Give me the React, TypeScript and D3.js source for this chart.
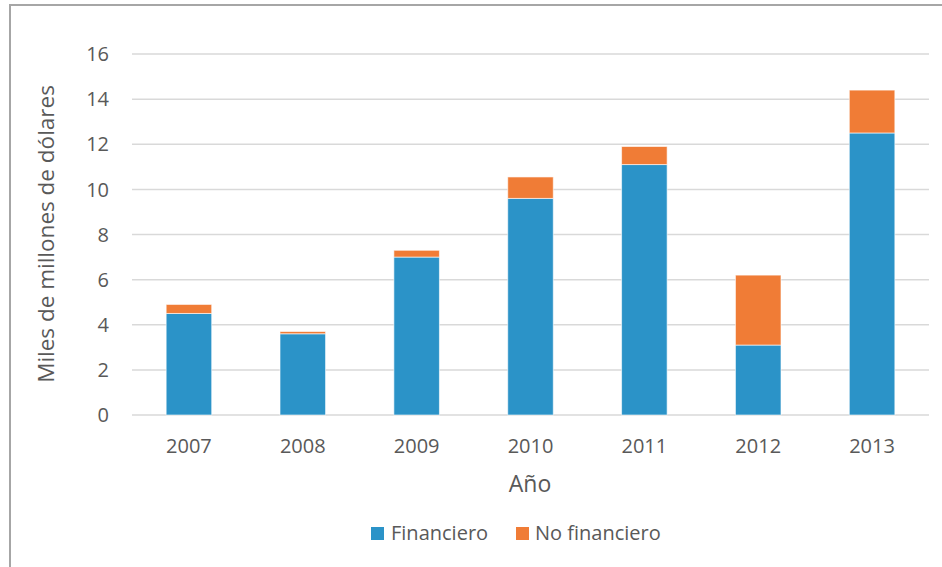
import React from "react";
import * as d3 from "d3";

const years = ["2007", "2008", "2009", "2010", "2011", "2012", "2013"];
const financiero = [4.5, 3.6, 7.0, 9.6, 11.1, 3.1, 12.5];
const noFinanciero = [0.4, 0.1, 0.3, 0.95, 0.8, 3.1, 1.9];
const yTicks = [0, 2, 4, 6, 8, 10, 12, 14, 16];
const seriesNames = ["Financiero", "No financiero"];
const colors = ["#2b93c8", "#f07c36"];

const W = 942;
const H = 567;
const left = 132;
const right = 929;
const top = 54;
const bottom = 415;
const font = "'Open Sans', sans-serif";
const textColor = "#595959";

export default function App() {
  const x = d3.scaleBand<string>().domain(years).range([left, right]).paddingInner(0.6).paddingOuter(0.3);
  const y = d3.scaleLinear().domain([0, 16]).range([bottom, top]);
  const rows = years.map((yr, i) => ({ year: yr, Financiero: financiero[i], "No financiero": noFinanciero[i] }));
  const stacked = d3.stack<any>().keys(seriesNames)(rows);

  return (
    <svg width={W} height={H} style={{ position: "absolute", left: 0, top: 0, background: "#fff" }}>
      <rect x={0} y={0} width={W} height={H} fill="#fff" />
      <path d={`M10,${H} L10,5 L${W},5`} fill="none" stroke="#a6a6a6" strokeWidth={2} />
      {yTicks.map((t) => (
        <g key={t}>
          <line x1={left} x2={right} y1={y(t)} y2={y(t)} stroke="#d9d9d9" strokeWidth={1.5} />
          <text x={109} y={y(t)} dy="0.36em" textAnchor="end" fontFamily={font} fontSize={20} fill={textColor}>
            {t}
          </text>
        </g>
      ))}
      {stacked.map((s, si) => (
        <g key={s.key}>
          {s.map((d, i) => (
            <rect
              key={i}
              x={x(years[i])!}
              y={y(d[1])}
              width={x.bandwidth()}
              height={y(d[0]) - y(d[1])}
              fill={colors[si]}
              stroke="#ffffff"
              strokeOpacity={0.6}
              strokeWidth={1}
            />
          ))}
        </g>
      ))}
      {years.map((yr) => (
        <text key={yr} x={x(yr)! + x.bandwidth() / 2} y={453} textAnchor="middle" fontFamily={font} fontSize={20} fill={textColor}>
          {yr}
        </text>
      ))}
      <text x={530} y={492} textAnchor="middle" fontFamily={font} fontSize={23} fill={textColor}>
        Año
      </text>
      <text
        transform={`translate(54,${234}) rotate(-90)`}
        textAnchor="middle"
        fontFamily={font}
        fontSize={22.5}
        fill={textColor}
      >
        Miles de millones de dólares
      </text>
      <g>
        <rect x={371} y={527} width={13} height={13} fill={colors[0]} />
        <text x={391} y={540} fontFamily={font} fontSize={20} fill={textColor}>
          {seriesNames[0]}
        </text>
        <rect x={516} y={527} width={13} height={13} fill={colors[1]} />
        <text x={535} y={540} fontFamily={font} fontSize={20} fill={textColor}>
          {seriesNames[1]}
        </text>
      </g>
    </svg>
  );
}
